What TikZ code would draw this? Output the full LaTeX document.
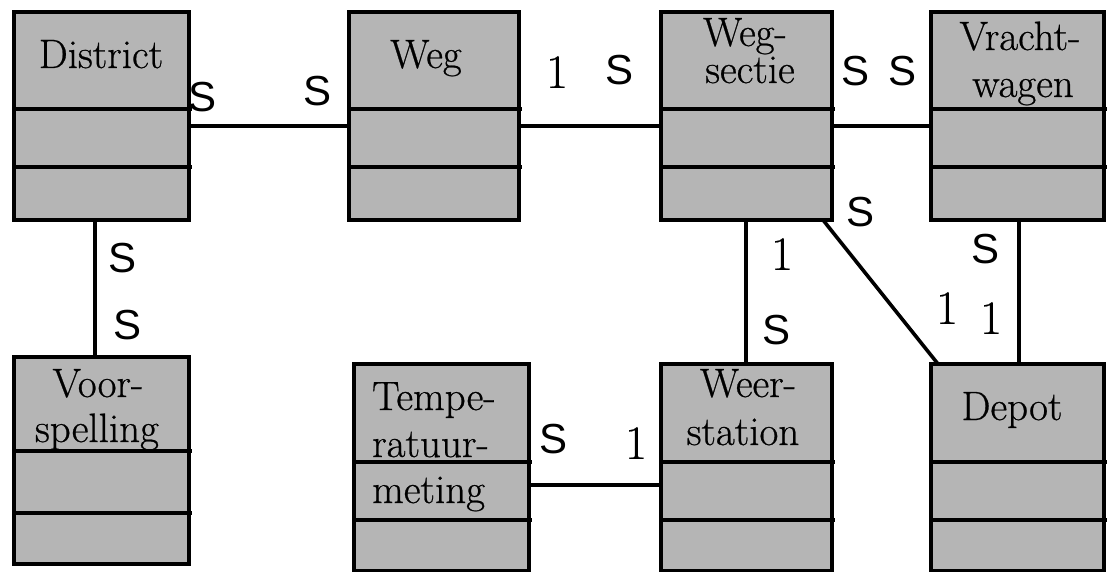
\documentclass[tikz,border=0pt]{standalone}
\usepackage{fontspec}
\setmainfont{Latin Modern Roman}[FakeBold=0.6]
\newfontfamily\sansS{Liberation Sans}
\newfontfamily\oneFont{Latin Modern Roman}[FakeBold=0.4]
\definecolor{boxgray}{RGB}{181,181,181}
\begin{document}
\begin{tikzpicture}[x=1pt,y=-1pt,
  box/.style={draw=black, fill=boxgray, line width=4pt, rectangle, inner sep=0pt, outer sep=0pt, anchor=north west},
  divider/.style={line width=4pt},
  conn/.style={line width=3.6pt},
  title/.style={inner sep=0pt, anchor=base, font=\fontsize{41}{41}\selectfont},
  ltitle/.style={inner sep=0pt, anchor=base west, font=\fontsize{41}{41}\selectfont},
  mS/.style={inner sep=0pt, font=\sansS\fontsize{42}{42}\selectfont},
  mOne/.style={inner sep=0pt, font=\oneFont\fontsize{48}{48}\selectfont}]
\useasboundingbox (0,0) rectangle (1113,572);
% boxes
\node[box, minimum width=175pt, minimum height=208pt] (district) at (14,12) {};
\node[box, minimum width=170pt, minimum height=208pt] (weg) at (349,12) {};
\node[box, minimum width=171pt, minimum height=208pt] (wegsectie) at (661,12) {};
\node[box, minimum width=173pt, minimum height=208pt] (vracht) at (931,12) {};
\node[box, minimum width=175pt, minimum height=207pt] (voorsp) at (14,357) {};
\node[box, minimum width=175pt, minimum height=207pt] (temp) at (354,364) {};
\node[box, minimum width=171pt, minimum height=207pt] (weer) at (661,364) {};
\node[box, minimum width=173pt, minimum height=207pt] (depot) at (931,364) {};
% divider levels
\coordinate (dA) at (0,109);
\coordinate (dB) at (0,167);
\coordinate (dC) at (0,451);
\coordinate (dD) at (0,513);
\coordinate (dE) at (0,462);
\coordinate (dF) at (0,520);
\foreach \b in {district,weg,wegsectie,vracht}{
  \draw[divider] (\b.west |- dA) -- ([xshift=3pt]\b.east |- dA);
  \draw[divider] (\b.west |- dB) -- ([xshift=3pt]\b.east |- dB);
}
\draw[divider] (voorsp.west |- dC) -- ([xshift=3pt]voorsp.east |- dC);
\draw[divider] (voorsp.west |- dD) -- ([xshift=3pt]voorsp.east |- dD);
\foreach \b in {temp,weer,depot}{
  \draw[divider] (\b.west |- dE) -- ([xshift=3pt]\b.east |- dE);
  \draw[divider] (\b.west |- dF) -- ([xshift=3pt]\b.east |- dF);
}
% titles
\node[title] (tDistrict) at (101,68) {District};
\node[title] (tWeg) at (426,68) {Weg};
\node[title] (tWs1) at (745,46) {Weg-};
\node[title] (tWs2) at (750,83) {sectie};
\node[title] (tVr1) at (1020,50) {Vracht-};
\node[title] (tVr2) at (1023,97) {wagen};
\node[title] (tVo1) at (98,397) {Voor-};
\node[title] (tVo2) at (97,442) {spelling};
\node[ltitle] (tTe1) at (372,410) {Tempe-};
\node[ltitle] (tTe2) at (372,457) {ratuur-};
\node[ltitle] (tTe3) at (372,503) {meting};
\node[title] (tWe1) at (748,397) {Weer-};
\node[title] (tWe2) at (743,445) {station};
\node[title] (tDe) at (1012,420) {Depot};
% connector guide coordinates
\coordinate (row1) at (0,126);
\coordinate (row2) at (0,485);
\coordinate (colA) at (95,0);
\coordinate (colB) at (746,0);
\coordinate (colC) at (1019,0);
\coordinate (diagA) at (823,0);
\coordinate (diagB) at (938,0);
% connectors
\draw[conn] (district.east |- row1) -- (weg.west |- row1);
\draw[conn] (weg.east |- row1) -- (wegsectie.west |- row1);
\draw[conn] (wegsectie.east |- row1) -- (vracht.west |- row1);
\draw[conn] (district.south -| colA) -- (voorsp.north -| colA);
\draw[conn] (wegsectie.south -| colB) -- (weer.north -| colB);
\draw[conn] (wegsectie.south -| diagA) -- (depot.north -| diagB);
\draw[conn] (vracht.south -| colC) -- (depot.north -| colC);
\draw[conn] (temp.east |- row2) -- (weer.west |- row2);
% multiplicities
\node[mS] (m1) at (203,97) {S};
\node[mS] (m2) at (318,91) {S};
\node[mOne] (m3) at (557,72) {1};
\node[mS] (m4) at (619,70) {S};
\node[mS] (m5) at (855,71) {S};
\node[mS] (m6) at (902,71) {S};
\node[mS] (m7) at (860,212) {S};
\node[mOne] (m8) at (782,254) {1};
\node[mS] (m9) at (776,330) {S};
\node[mOne] (m10) at (947,308) {1};
\node[mS] (m11) at (985,249) {S};
\node[mOne] (m12) at (991,318) {1};
\node[mS] (m13) at (123,258) {S};
\node[mS] (m14) at (128,325) {S};
\node[mS] (m15) at (553,439) {S};
\node[mOne] (m16) at (636,443) {1};
\end{tikzpicture}
\end{document}
